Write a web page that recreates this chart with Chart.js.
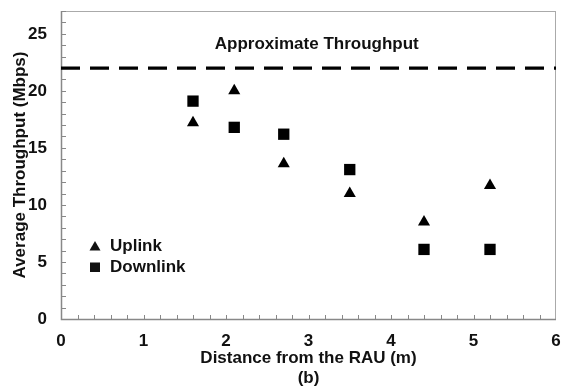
<!DOCTYPE html>
<html>
<head>
<meta charset="utf-8">
<script src="https://cdn.jsdelivr.net/npm/chart.js@4/dist/chart.umd.min.js"></script>
<style>
html,body{margin:0;padding:0;background:#fff;}
#wrap{width:569px;height:391px;position:relative;}
</style>
</head>
<body>
<div id="wrap"><canvas id="c" width="569" height="391"></canvas></div>
<script>
// ---- data ----
const distances = [1.6, 2.1, 2.7, 3.5, 4.4, 5.2];
const uplink    = [17.2, 20.0, 13.6, 11.0, 8.5, 11.7];
const downlink  = [19.1, 16.8, 16.2, 13.1, 6.1, 6.1];
const approxX   = [0, 6];
const approxY   = [22, 22];
const approxLabel = "Approximate Throughput";
const seriesNames = ["Uplink", "Downlink"];
const xTicks = [0, 1, 2, 3, 4, 5, 6];
const yTicks = [0, 5, 10, 15, 20, 25];

const FONT = "'Liberation Sans', Arial, sans-serif";

const toPts = (xs, ys) => xs.map((x, i) => ({x: x, y: ys[i]}));
const noPad = s => { s.paddingTop = 0; s.paddingBottom = 0; s.paddingLeft = 0; s.paddingRight = 0; };

const decor = {
  id: 'decor',
  beforeDatasetsDraw(chart) {
    const {ctx, chartArea: a, scales: {x, y}} = chart;
    ctx.save();
    // frame
    ctx.strokeStyle = '#aaa';
    ctx.lineWidth = 1;
    ctx.strokeRect(a.left + 0.5, a.top + 0.5, a.right - a.left - 1, a.bottom - a.top);
    ctx.strokeStyle = '#888';
    ctx.lineWidth = 1.5;
    ctx.beginPath();
    ctx.moveTo(a.left + 0.5, a.top);
    ctx.lineTo(a.left + 0.5, a.bottom + 0.5);
    ctx.lineTo(a.right, a.bottom + 0.5);
    ctx.stroke();
    // minor ticks
    ctx.strokeStyle = '#888';
    ctx.lineWidth = 1;
    ctx.beginPath();
    for (let v = 1; v <= 27; v++) {
      const py = Math.round(y.getPixelForValue(v)) + 0.5;
      ctx.moveTo(a.left, py); ctx.lineTo(a.left + 5, py);
    }
    for (let k = 1; k < 30; k++) {
      const v = k * 0.2;
      const px = Math.round(x.getPixelForValue(v)) + 0.5;
      ctx.moveTo(px, a.bottom); ctx.lineTo(px, a.bottom - 4);
    }
    ctx.stroke();
    ctx.restore();
  },
  afterDatasetsDraw(chart) {
    const {ctx, chartArea: a, scales: {x, y}} = chart;
    ctx.save();
    ctx.fillStyle = '#111';
    ctx.font = "bold 17px " + FONT;
    ctx.textAlign = 'center';
    ctx.textBaseline = 'middle';
    ctx.fillText(approxLabel, x.getPixelForValue(3.10), y.getPixelForValue(24.05));
    // legend
    const lx = a.left + 34, ly1 = a.top + 235, ly2 = a.top + 256;
    ctx.beginPath();
    ctx.moveTo(lx, ly1 - 5); ctx.lineTo(lx + 5.5, ly1 + 4.5); ctx.lineTo(lx - 5.5, ly1 + 4.5);
    ctx.closePath(); ctx.fill();
    ctx.fillRect(lx - 5, ly2 - 4.5, 10, 9.5);
    ctx.textAlign = 'left';
    ctx.fillText(seriesNames[0], lx + 15, ly1);
    ctx.fillText(seriesNames[1], lx + 15, ly2);
    ctx.restore();
  }
};

new Chart(document.getElementById('c'), {
  type: 'scatter',
  data: {
    datasets: [
      {label: seriesNames[0], data: toPts(distances, uplink), pointStyle: 'triangle',
       pointRadius: 7, pointHoverRadius: 7, backgroundColor: '#000', borderColor: '#000', borderWidth: 0},
      {label: seriesNames[1], data: toPts(distances, downlink), pointStyle: 'rect',
       pointRadius: 8, pointHoverRadius: 8, backgroundColor: '#000', borderColor: '#000', borderWidth: 0},
      {label: approxLabel, type: 'line', data: toPts(approxX, approxY), showLine: true,
       borderColor: '#000', borderWidth: 3.3, borderDash: [19, 10], pointRadius: 0, fill: false}
    ]
  },
  options: {
    responsive: false,
    animation: false,
    events: [],
    layout: {autoPadding: false, padding: {left: 0, top: 11, right: 13, bottom: 0}},
    plugins: {legend: {display: false}, tooltip: {enabled: false}},
    scales: {
      x: {
        type: 'linear', min: 0, max: 6,
        afterBuildTicks: s => { s.ticks = xTicks.map(v => ({value: v})); },
        afterFit: s => { s.height = 72; noPad(s); },
        grid: {display: false, drawTicks: false},
        border: {display: false},
        ticks: {color: '#111', padding: 12, font: {family: FONT, size: 17, weight: 'bold'}, maxRotation: 0},
        title: {display: true, text: ['Distance from the RAU (m)', '(b)'], color: '#111',
                padding: {top: 0, bottom: 3}, font: {family: FONT, size: 17, weight: 'bold', lineHeight: 1.15}}
      },
      y: {
        type: 'linear', min: 0, max: 27,
        afterBuildTicks: s => { s.ticks = yTicks.map(v => ({value: v})); },
        afterFit: s => { s.width = 61; noPad(s); },
        grid: {display: false, drawTicks: false},
        border: {display: false},
        ticks: {color: '#111', padding: 14, font: {family: FONT, size: 17, weight: 'bold'}},
        title: {display: true, text: 'Average Throughput (Mbps)', color: '#111',
                padding: {top: 11, bottom: 0}, font: {family: FONT, size: 17, weight: 'bold', lineHeight: 1.15}}
      }
    }
  },
  plugins: [decor]
});
</script>
</body>
</html>
